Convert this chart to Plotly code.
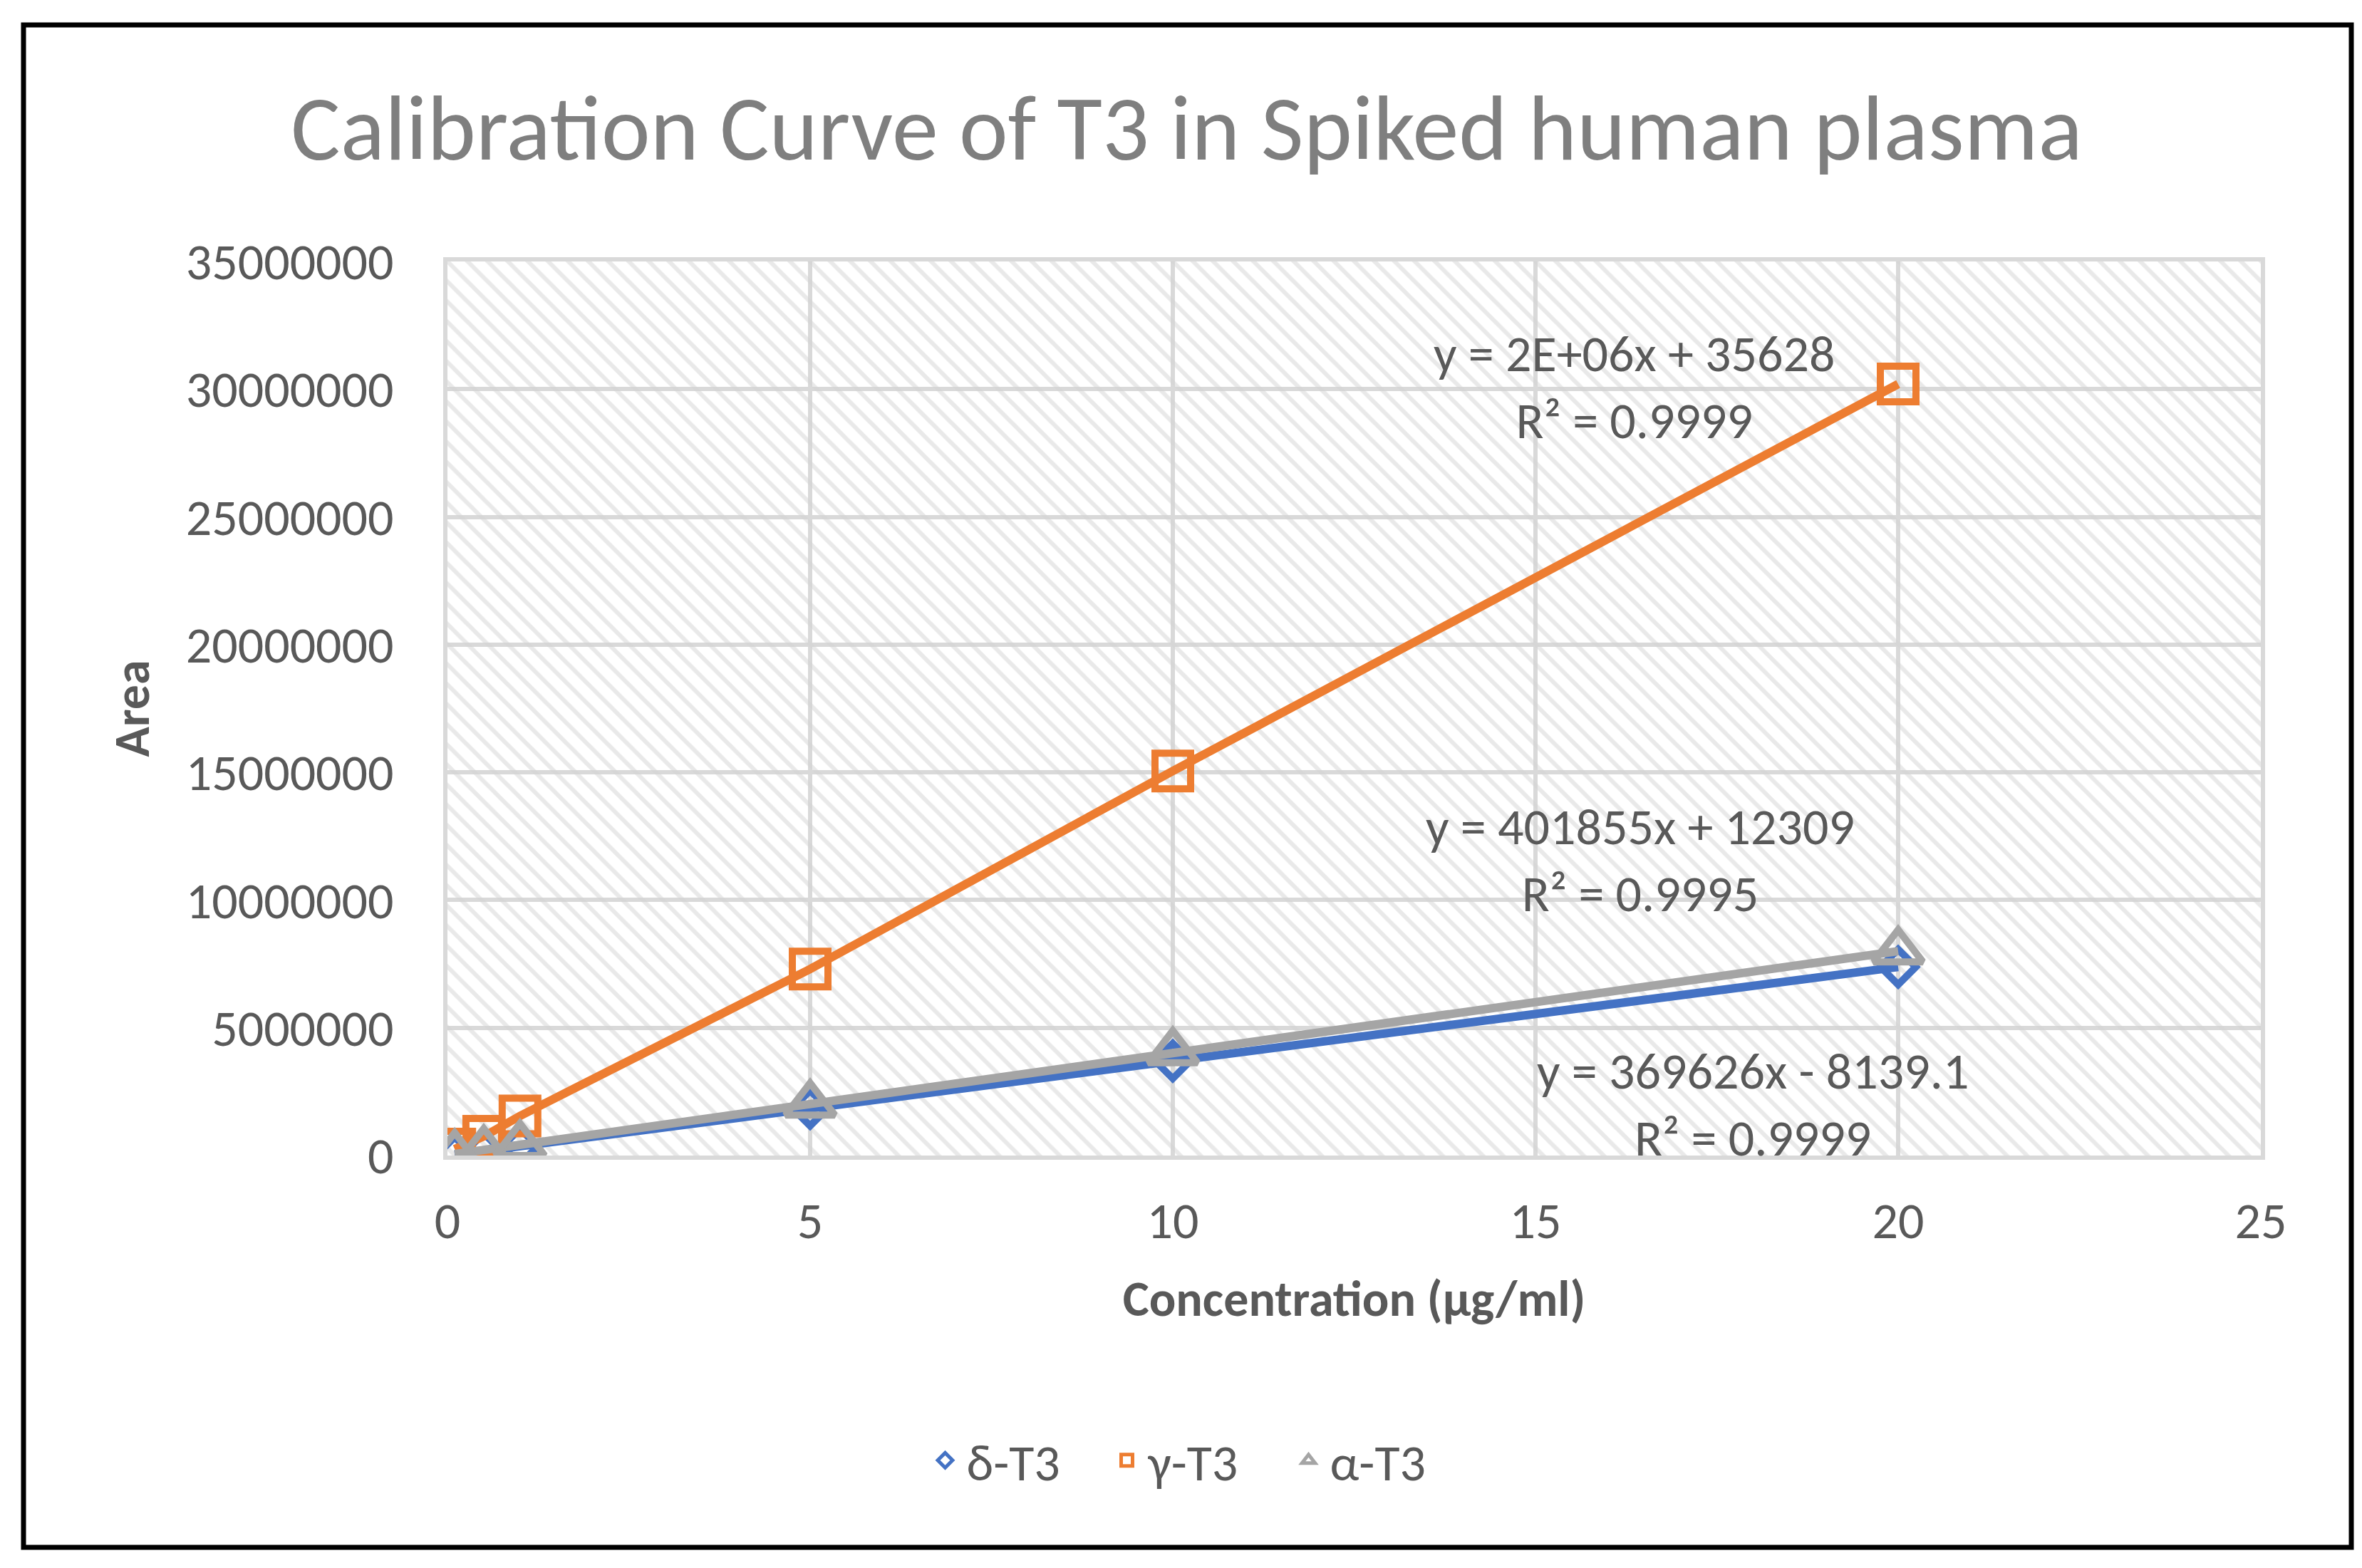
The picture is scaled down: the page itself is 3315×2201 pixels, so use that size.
import plotly.graph_objects as go

# concentration (ug/ml) and peak areas
conc = [0.1, 0.5, 1, 5, 10, 20]
delta_t3 = [30000, 180000, 360000, 1850000, 3700000, 7380000]
gamma_t3 = [250000, 750000, 1550000, 7300000, 15050000, 30200000]
alpha_t3 = [60000, 220000, 420000, 2000000, 4050000, 8000000]

series_names = ["δ-T3", "γ-T3", "α-T3"]
colors = ["#4472C4", "#ED7D31", "#A5A5A5"]
symbols = ["diamond-open", "square-open", "triangle-up-open"]
marker_sizes = [38, 50, 60]

x_range = [0, 25]
y_range = [0, 35000000]

trend_text = [
    "y = 369626x - 8139.1<br>R² = 0.9999",
    "y = 2E+06x + 35628<br>R² = 0.9999",
    "y = 401855x + 12309<br>R² = 0.9995",
]
trend_pos = [(18.0, 2000000), (16.37, 30100000), (16.44, 11570000)]

W, H = 3315, 2201
ml, mr, mt, mb = 620, 150, 359, 587
pw, ph = W - ml - mr, H - mt - mb

FONT = "Carlito, Lato, sans-serif"
TXT = "#595959"

fig = go.Figure()

# hatched plot-area background
fig.add_trace(go.Scatter(
    x=[x_range[0], x_range[1], x_range[1], x_range[0], x_range[0]],
    y=[y_range[0], y_range[0], y_range[1], y_range[1], y_range[0]],
    fill="toself", mode="none", fillcolor="rgba(0,0,0,0)",
    fillpattern=dict(shape="\\", fgcolor="#d4d4d4", bgcolor="rgba(0,0,0,0)",
                     size=20, solidity=0.3),
    showlegend=False, hoverinfo="skip"))

for name, vals, c, s, ms in zip(series_names, [delta_t3, gamma_t3, alpha_t3],
                                colors, symbols, marker_sizes):
    fig.add_trace(go.Scatter(
        x=conc, y=vals, name=name, mode="lines+markers", legendgroup=name,
        showlegend=False,
        line=dict(color=c, width=12),
        marker=dict(symbol=s, size=ms, color=c, line=dict(color=c, width=10))))
    # marker-only legend entry
    fig.add_trace(go.Scatter(
        x=[None], y=[None], name=name, mode="markers", legendgroup=name,
        marker=dict(symbol=s, size=ms, color=c, line=dict(color=c, width=10))))

for txt, (ax, ay) in zip(trend_text, trend_pos):
    fig.add_annotation(x=ax, y=ay, text=txt, showarrow=False,
                       font=dict(family=FONT, size=72, color=TXT),
                       xanchor="center", yanchor="middle")

# outer black frame
fig.add_shape(type="rect", xref="paper", yref="paper",
              x0=(25 - ml) / pw, x1=(3292 - ml) / pw,
              y0=(H - mb - 2164) / ph, y1=(H - mb - 27) / ph,
              line=dict(color="black", width=7), fillcolor="rgba(0,0,0,0)", layer="above")

fig.update_layout(
    width=W, height=H,
    margin=dict(l=ml, r=mr, t=mt, b=mb),
    paper_bgcolor="white", plot_bgcolor="white",
    font=dict(family=FONT, size=72, color=TXT),
    title=dict(text="Calibration Curve of T3 in Spiked human plasma",
               x=0.5, xref="container", xanchor="center",
               y=1 - 170 / H, yanchor="middle",
               font=dict(family=FONT, size=130, color="#7F7F7F")),
    xaxis=dict(range=x_range, dtick=5, showgrid=True, gridcolor="#D9D9D9", gridwidth=6,
               zeroline=False, showline=True, mirror=True, linecolor="#D9D9D9", linewidth=6,
               ticks="outside", ticklen=24, tickcolor="rgba(0,0,0,0)",
               tickfont=dict(size=72, color=TXT),
               title=dict(text="<b>Concentration (µg/ml)</b>", standoff=44,
                          font=dict(size=70, color=TXT))),
    yaxis=dict(range=y_range, dtick=5000000, showgrid=True, gridcolor="#D9D9D9", gridwidth=6,
               zeroline=False, showline=True, mirror=True, linecolor="#D9D9D9", linewidth=6,
               ticks="outside", ticklen=55, tickcolor="rgba(0,0,0,0)",
               tickformat="d", tickfont=dict(size=72, color=TXT),
               title=dict(text="<b>Area</b>", standoff=30,
                          font=dict(size=70, color=TXT))),
    legend=dict(orientation="h", x=(1671 - ml) / pw, xanchor="center",
                y=(H - mb - 2042) / ph, yanchor="middle",
                itemwidth=50, entrywidth=190,
                font=dict(size=72, color=TXT), traceorder="normal"),
)

fig.write_html("out.html")
